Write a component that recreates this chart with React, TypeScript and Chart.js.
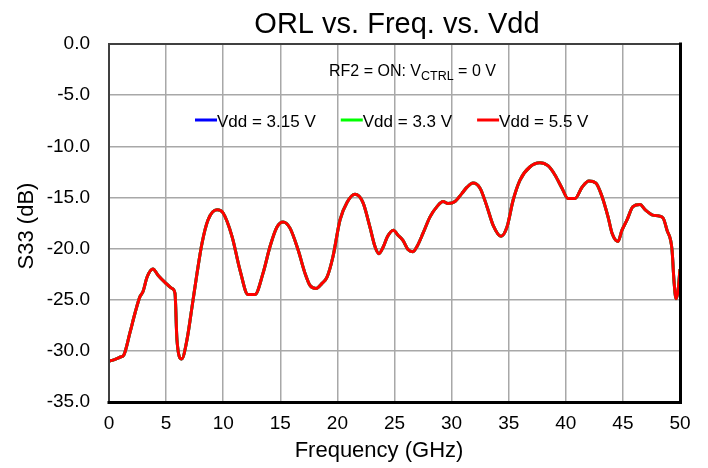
import React, { useEffect, useRef } from "react";
import { Chart, registerables } from "chart.js";

Chart.register(...registerables);

const chartTitle = "ORL vs. Freq. vs. Vdd";
const xAxisTitle = "Frequency (GHz)";
const yAxisTitle = "S33 (dB)";
const seriesLabels = ["Vdd = 3.15 V", "Vdd = 3.3 V", "Vdd = 5.5 V"];
const seriesColors = ["#0000ff", "#00ff00", "#ff0000"];

const xTickValues = [0, 5, 10, 15, 20, 25, 30, 35, 40, 45, 50];
const yTickValues = [0, -5, -10, -15, -20, -25, -30, -35];

const freqGHz = [
  0, 0.35, 1.0, 1.3, 1.84, 2.28, 2.71, 2.98, 3.33, 3.85, 4.29, 4.9, 5.52, 5.78,
  5.95, 6.36, 6.83, 7.27, 7.71, 8.14, 8.67, 9.46, 9.98, 10.77, 11.47, 12.17,
  12.78, 13.49, 14.1, 14.71, 15.24, 15.85, 16.55, 17.16, 17.6, 18.13, 18.65,
  19.09, 19.61, 20.23, 20.84, 21.54, 22.24, 22.85, 23.29, 23.64, 23.99, 24.4,
  24.9, 25.31, 25.74, 26.18, 26.62, 26.97, 27.5, 28.11, 28.72, 29.25, 29.68,
  30.3, 30.91, 31.35, 31.87, 32.49, 33.1, 33.63, 34.33, 34.85, 35.38, 35.99,
  36.87, 37.74, 38.44, 39.05, 39.67, 40.19, 40.81, 41.42, 42.03, 42.64, 43.17,
  43.7, 44.05, 44.57, 44.92, 45.36, 45.88, 46.5, 46.94, 47.55, 48.07, 48.51,
  48.86, 49.3, 49.47, 49.65, 49.82, 50,
];

const s33Vdd55 = [
  -31.0, -30.9, -30.6, -30.4, -28.2, -26.3, -24.7, -24.2, -22.8, -22.0, -22.6,
  -23.3, -23.9, -24.4, -28.9, -30.8, -28.9, -25.7, -22.4, -19.5, -17.2, -16.2,
  -16.5, -18.8, -22.1, -24.5, -24.5, -22.4, -19.8, -17.9, -17.4, -18.0, -20.1,
  -22.4, -23.6, -23.9, -23.4, -22.8, -20.8, -17.2, -15.5, -14.7, -15.5, -17.9,
  -19.8, -20.5, -19.9, -18.8, -18.2, -18.7, -19.2, -20.1, -20.3, -19.8, -18.5,
  -16.9, -15.9, -15.4, -15.6, -15.4, -14.6, -14.0, -13.6, -14.1, -15.9, -17.7,
  -18.8, -17.9, -15.3, -13.3, -12.0, -11.6, -11.9, -12.8, -14.1, -15.1, -15.1,
  -14.0, -13.4, -13.6, -14.9, -16.9, -18.5, -19.3, -18.2, -17.2, -15.9, -15.7,
  -16.2, -16.7, -16.8, -17.0, -18.2, -20.1, -23.1, -24.9, -24.2, -22.0,
];
// The 3.15 V and 3.3 V traces lie entirely under the 5.5 V trace in the picture.
const s33Vdd315 = [...s33Vdd55];
const s33Vdd33 = [...s33Vdd55];

const seriesValues = [s33Vdd315, s33Vdd33, s33Vdd55];

const FONT = "'Liberation Sans', Arial, Helvetica, sans-serif";

const overlayPlugin = {
  id: "overlay",
  afterDraw(chart: any) {
    const { ctx, chartArea: a } = chart;
    ctx.save();
    // frame
    ctx.lineCap = "square";
    ctx.strokeStyle = "#404040";
    ctx.lineWidth = 2;
    ctx.beginPath();
    ctx.moveTo(a.left, a.bottom);
    ctx.lineTo(a.left, a.top);
    ctx.lineTo(a.right, a.top);
    ctx.stroke();
    ctx.strokeStyle = "#000000";
    ctx.lineWidth = 3;
    ctx.beginPath();
    ctx.moveTo(a.left, a.bottom + 0.5);
    ctx.lineTo(a.right + 0.5, a.bottom + 0.5);
    ctx.lineTo(a.right + 0.5, a.top);
    ctx.stroke();

    ctx.fillStyle = "#000000";
    // title
    ctx.font = `29px ${FONT}`;
    ctx.textAlign = "center";
    ctx.textBaseline = "alphabetic";
    ctx.fillText(chartTitle, a.left + 288, 33);

    // x axis title
    ctx.font = `22px ${FONT}`;
    ctx.fillText(xAxisTitle, a.left + 270, 457);

    // y axis title
    ctx.save();
    ctx.translate(33, (a.top + a.bottom) / 2 + 3);
    ctx.rotate(-Math.PI / 2);
    ctx.fillText(yAxisTitle, 0, 0);
    ctx.restore();

    // annotation
    ctx.textAlign = "left";
    let x = a.left + 220;
    ctx.font = `16px ${FONT}`;
    const p1 = "RF2 = ON: V";
    ctx.fillText(p1, x, 75.5);
    x += ctx.measureText(p1).width;
    ctx.font = `12.5px ${FONT}`;
    const sub = "CTRL";
    ctx.fillText(sub, x, 79.5);
    x += ctx.measureText(sub).width;
    ctx.font = `16px ${FONT}`;
    ctx.fillText(" = 0 V", x, 75.5);

    // legend
    ctx.font = `17px ${FONT}`;
    let lx = a.left + 86;
    const ly = 120;
    seriesLabels.forEach((label, i) => {
      ctx.strokeStyle = seriesColors[i];
      ctx.lineWidth = 3;
      ctx.lineCap = "butt";
      ctx.beginPath();
      ctx.moveTo(lx, ly);
      ctx.lineTo(lx + 22, ly);
      ctx.stroke();
      ctx.fillStyle = "#000000";
      ctx.fillText(label, lx + 22, ly + 6.5);
      lx += 22 + ctx.measureText(label).width + 25;
    });
    ctx.restore();
  },
};

export default function App() {
  const canvasRef = useRef<HTMLCanvasElement | null>(null);

  useEffect(() => {
    if (!canvasRef.current) return;
    const datasets = seriesLabels.map((label, i) => ({
      label,
      data: freqGHz.map((f, j) => ({ x: f, y: seriesValues[i][j] })),
      borderColor: seriesColors[i],
      backgroundColor: seriesColors[i],
      borderWidth: 3,
      pointRadius: 0,
      cubicInterpolationMode: "monotone" as const,
      fill: false,
      order: seriesLabels.length - i,
    }));
    const chart = new Chart(canvasRef.current, {
      type: "line",
      data: { datasets },
      options: {
        responsive: false,
        animation: false,
        layout: { padding: { top: 44, right: 28, left: 0, bottom: 0 } },
        plugins: {
          legend: { display: false },
          title: { display: false },
          tooltip: { enabled: false },
        },
        scales: {
          x: {
            type: "linear",
            min: 0,
            max: 50,
            afterFit: (s: any) => {
              s.height = 66;
            },
            afterBuildTicks: (s: any) => {
              s.ticks = xTickValues.map((v) => ({ value: v }));
            },
            grid: { color: "#a8a8a8", lineWidth: 1.5, drawTicks: false },
            border: { display: false },
            ticks: {
              padding: 10,
              color: "#000000",
              font: { family: FONT, size: 19 },
              callback: (v: any) => String(v),
            },
          },
          y: {
            type: "linear",
            min: -35,
            max: 0,
            afterFit: (s: any) => {
              s.width = 109;
            },
            afterBuildTicks: (s: any) => {
              s.ticks = yTickValues.map((v) => ({ value: v }));
            },
            grid: { color: "#a8a8a8", lineWidth: 1.5, drawTicks: false },
            border: { display: false },
            ticks: {
              padding: 19,
              color: "#000000",
              font: { family: FONT, size: 19 },
              callback: (v: any) => Number(v).toFixed(1),
            },
          },
        },
      },
      plugins: [overlayPlugin],
    });
    return () => chart.destroy();
  }, []);

  return (
    <div style={{ position: "absolute", left: 0, top: 0, width: 708, height: 468, background: "#ffffff" }}>
      <canvas ref={canvasRef} width={708} height={468} />
    </div>
  );
}
